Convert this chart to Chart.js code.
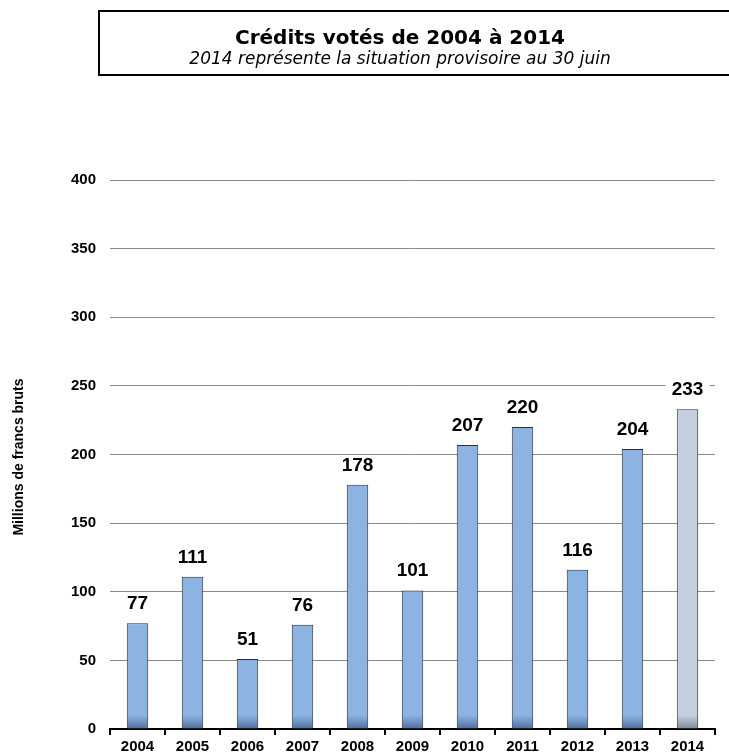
<!DOCTYPE html>
<html>
<head>
<meta charset="utf-8">
<script src="https://cdn.jsdelivr.net/npm/chart.js@4/dist/chart.umd.min.js"></script>
<style>
  html, body { margin: 0; padding: 0; background: #fff; overflow: hidden; }
  #wrap { position: relative; width: 729px; height: 754px; }
  #titlebox { position: absolute; left: 98px; top: 10px; width: 640px; height: 62px; border: 2px solid #000; box-sizing: content-box; }
  #t1 { position: absolute; left: 0; width: 800px; top: 25px; text-align: center; font: bold 20px "DejaVu Sans", sans-serif; color: #000; }
  #t2 { position: absolute; left: 0; width: 800px; top: 48px; text-align: center; font: italic 17px "DejaVu Sans", sans-serif; color: #000; }
  canvas { position: absolute; left: 0; top: 0; }
</style>
</head>
<body>
<div id="wrap">
  <canvas id="c" width="729" height="754"></canvas>
  <div id="titlebox"></div>
  <div id="t1">Crédits votés de 2004 à 2014</div>
  <div id="t2">2014 représente la situation provisoire au 30 juin</div>
</div>
<script>
const categories = ["2004","2005","2006","2007","2008","2009","2010","2011","2012","2013","2014"];
const values = [77, 111, 51, 76, 178, 101, 207, 220, 116, 204, 233];
const yTicks = [0, 50, 100, 150, 200, 250, 300, 350, 400];
const yTitle = "Millions de francs bruts";

const mainColor = ["#8DB3E2", "#4E6E9C"];
const lastColor = ["#C3CFDD", "#7E8A9A"];

function barGradient(ctx) {
  const chart = ctx.chart;
  const area = chart.chartArea;
  const pair = ctx.dataIndex === categories.length - 1 ? lastColor : mainColor;
  if (!area) return pair[0];
  const g = chart.ctx.createLinearGradient(0, area.top, 0, area.bottom);
  g.addColorStop(0, pair[0]);
  g.addColorStop(0.975, pair[0]);
  g.addColorStop(1, pair[1]);
  return g;
}

const labelPlugin = {
  id: 'valueLabels',
  afterDatasetsDraw(chart) {
    const ctx = chart.ctx;
    const meta = chart.getDatasetMeta(0);
    ctx.save();
    ctx.font = 'bold 19px "Liberation Sans", Arial, sans-serif';
    ctx.textAlign = 'center';
    ctx.textBaseline = 'alphabetic';
    meta.data.forEach((bar, i) => {
      const txt = String(values[i]);
      const y = bar.y - 14;
      const w = ctx.measureText(txt).width;
      ctx.fillStyle = '#fff';
      ctx.fillRect(bar.x - w / 2 - 6, y - 15, w + 12, 17);
      ctx.fillStyle = '#000';
      ctx.fillText(txt, bar.x, y);
    });
    ctx.restore();
  },
  afterDraw(chart) {
    const ctx = chart.ctx;
    ctx.save();
    ctx.translate(19, 457);
    ctx.rotate(-Math.PI / 2);
    ctx.font = 'bold 14px "Liberation Sans Narrow", "Liberation Sans", Arial, sans-serif';
    ctx.textAlign = 'center';
    ctx.textBaseline = 'middle';
    ctx.fillStyle = '#000';
    ctx.fillText(yTitle, 0, 0);
    ctx.restore();
  }
};

new Chart(document.getElementById('c'), {
  type: 'bar',
  data: {
    labels: categories,
    datasets: [{
      data: values,
      backgroundColor: barGradient,
      borderColor: '#2e2e2e',
      borderWidth: 1,
      borderSkipped: 'bottom',
      barPercentage: 0.39,
      categoryPercentage: 1.0
    }]
  },
  options: {
    responsive: false,
    animation: false,
    events: [],
    layout: { padding: { left: 0, right: 14, top: 180, bottom: 0 } },
    plugins: { legend: { display: false }, tooltip: { enabled: false }, title: { display: false } },
    scales: {
      x: {
        offset: true,
        grid: { display: true, offset: true, drawOnChartArea: false, drawTicks: true, tickLength: 6, color: '#000', lineWidth: 2 },
        border: { display: true, color: '#000', width: 2 },
        ticks: { color: '#000', font: { family: '"Liberation Sans", Arial, sans-serif', size: 15, weight: 'bold' }, padding: 3, maxRotation: 0, autoSkip: false },
        afterFit(scale) { scale.height = 25; }
      },
      y: {
        min: 0, max: 400,
        afterBuildTicks(scale) { scale.ticks = yTicks.map(v => ({ value: v })); },
        grid: { color: '#8a8a8a', lineWidth: 1, drawTicks: false },
        border: { display: false },
        ticks: { color: '#000', font: { family: '"Liberation Sans", Arial, sans-serif', size: 15, weight: 'bold' }, padding: 14 },
        afterFit(scale) { scale.width = 110; }
      }
    }
  },
  plugins: [labelPlugin]
});
</script>
</body>
</html>
